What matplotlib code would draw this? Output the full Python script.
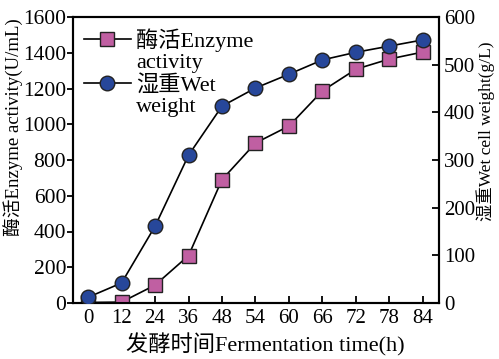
import matplotlib
matplotlib.use("Agg")
import matplotlib.pyplot as plt
from matplotlib.lines import Line2D

plt.rcParams['font.family'] = ['Liberation Serif', 'Noto Sans CJK SC']
plt.rcParams['font.size'] = 15

times = ['0', '12', '24', '36', '48', '54', '60', '66', '72', '78', '84']
enzyme = [3, 5, 100, 265, 690, 895, 990, 1187, 1308, 1365, 1404]
wet = [12, 42, 161, 310, 413, 451, 480, 510, 526, 539, 552]

sq_color = '#c05fa2'
ci_color = '#27479a'

fig = plt.figure(figsize=(4.99, 3.59), dpi=100)
ax = fig.add_axes([73/499, 1-303/359, (439-73)/499, (303-17)/359])
ax2 = ax.twinx()

x = list(range(len(times)))
ax.plot(x, enzyme, '-', color='black', lw=1.2, marker='s', markersize=10.5,
        markerfacecolor=sq_color, markeredgecolor='#222222', markeredgewidth=1.0, zorder=3)
ax2.plot(x, wet, '-', color='black', lw=1.2, marker='o', markersize=10.5,
         markerfacecolor=ci_color, markeredgecolor='#222222', markeredgewidth=1.0, zorder=3)

ax.set_xlim(-0.45, 10.48)
ax.set_ylim(0, 1600)
ax2.set_ylim(0, 600)
ax.set_xticks(x)
ax.set_xticklabels(times)
ax.set_yticks(range(0, 1601, 200))
ax2.set_yticks(range(0, 601, 100))

for a in (ax, ax2):
    for s in a.spines.values():
        s.set_linewidth(1.5)
ax.tick_params(axis='y', direction='out', length=4, width=1.3, pad=1, labelsize=15.5)
ax.tick_params(axis='x', direction='in', length=5, width=1.3, pad=4, labelsize=15)
ax2.tick_params(axis='y', direction='in', length=5, width=1.3, pad=3.5, labelsize=15)

ax.set_xlabel('发酵时间Fermentation time(h)', fontsize=16)
ax.xaxis.set_label_coords((265-73)/366, (303-333)/286)
ax.set_ylabel('酶活Enzyme activity(U/mL)', fontsize=13.5)
ax.yaxis.set_label_coords((23-73)/366, (303-127)/286)
ax2.set_ylabel('湿重Wet cell weight(g/L)', fontsize=12.5)
ax2.yaxis.set_label_coords((476-73)/366, (303-131)/286)

handles = [
    Line2D([], [], color='black', lw=1.2, marker='s', markersize=10.5,
           markerfacecolor=sq_color, markeredgecolor='#222222'),
    Line2D([], [], linestyle='none'),
    Line2D([], [], color='black', lw=1.2, marker='o', markersize=10.5,
           markerfacecolor=ci_color, markeredgecolor='#222222'),
    Line2D([], [], linestyle='none'),
]
labels = ['酶活Enzyme', 'activity', '湿重Wet', 'weight']
ax2.legend(handles, labels, loc='upper left', frameon=False, handlelength=2.1,
           handletextpad=0.25, labelspacing=0.05, borderaxespad=0.3,
           borderpad=0.2, fontsize=16)

fig.savefig('out.png', dpi=100)
